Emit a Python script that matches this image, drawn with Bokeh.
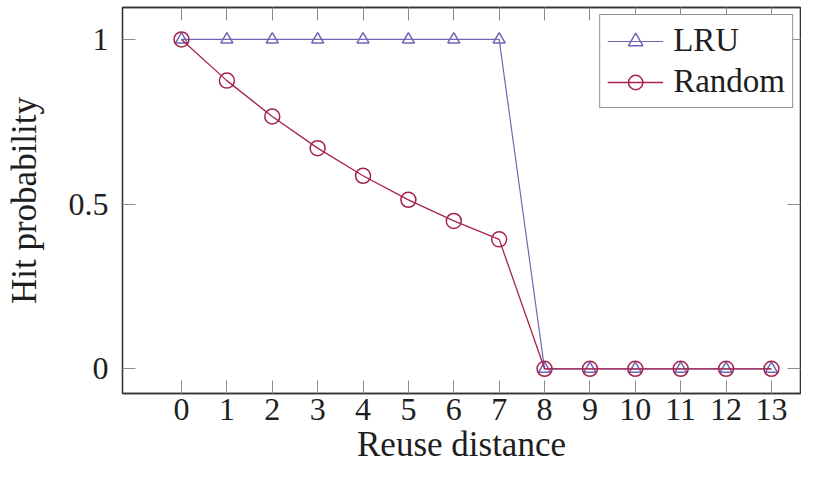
from bokeh.plotting import figure
from bokeh.models import Range1d, FixedTicker, LinearAxis, Legend
from bokeh.embed import file_html
from bokeh.resources import INLINE

# Data
reuse_distance = [0, 1, 2, 3, 4, 5, 6, 7, 8, 9, 10, 11, 12, 13]
lru_hit = [1, 1, 1, 1, 1, 1, 1, 1, 0, 0, 0, 0, 0, 0]
random_hit = [1, 0.875, 0.766, 0.67, 0.586, 0.513, 0.449, 0.393, 0, 0, 0, 0, 0, 0]
x_ticks = list(range(14))
y_ticks = [0, 0.5, 1]
y_tick_labels = {0: "0", 0.5: "0.5", 1: "1"}

LRU_COLOR = "#7066b4"
RND_COLOR = "#a6234b"
FONT = "Liberation Serif"
TXT = "#1e1e1e"

p = figure(width=801, height=466, output_backend="svg", toolbar_location=None,
           x_range=Range1d(-1.3, 13.64), y_range=Range1d(-0.075, 1.097),
           min_border_left=122, min_border_right=1, min_border_top=7, min_border_bottom=60)
p.xgrid.visible = False
p.ygrid.visible = False
p.outline_line_color = "#333333"
p.outline_line_width = 1.3

def style_axis(ax, ticks, show_labels):
    ax.ticker = FixedTicker(ticks=ticks)
    ax.minor_tick_line_color = None
    ax.major_tick_in = 13
    ax.major_tick_out = 0
    ax.major_tick_line_color = "#8c8c8c"
    ax.major_tick_line_width = 1
    ax.axis_line_color = "#333333"
    ax.axis_line_width = 1.3
    if show_labels:
        ax.major_label_text_font = FONT
        ax.major_label_text_font_size = "32px"
        ax.major_label_text_color = TXT
        ax.axis_label_text_font = FONT
        ax.axis_label_text_font_size = "35px"
        ax.axis_label_text_font_style = "normal"
        ax.axis_label_text_color = TXT
    else:
        ax.major_label_text_font_size = "1px"
        ax.major_label_text_color = None
        ax.major_label_standoff = 0

xa = p.xaxis[0]
style_axis(xa, x_ticks, True)
xa.axis_label = "Reuse distance"
xa.major_label_standoff = 5
xa.axis_label_standoff = 2

ya = p.yaxis[0]
style_axis(ya, y_ticks, True)
ya.major_label_overrides = y_tick_labels
ya.axis_label = "Hit probability"
ya.major_label_standoff = 14
ya.axis_label_standoff = 22

top = LinearAxis()
style_axis(top, x_ticks, False)
p.add_layout(top, "above")
right = LinearAxis()
style_axis(right, y_ticks, False)
p.add_layout(right, "right")

l1 = p.line(reuse_distance, lru_hit, line_color=LRU_COLOR, line_width=1.2)
m1 = p.scatter(reuse_distance, lru_hit, marker="triangle", size=12, fill_color=None,
               line_color=LRU_COLOR, line_width=1.5)
l2 = p.line(reuse_distance, random_hit, line_color=RND_COLOR, line_width=1.3)
m2 = p.scatter(reuse_distance, random_hit, marker="circle", size=15, fill_color=None,
               line_color=RND_COLOR, line_width=1.5)

legend = Legend(items=[("LRU", [l1, m1]), ("Random", [l2, m2])], location="top_right")
legend.label_text_font = FONT
legend.label_text_font_size = "33px"
legend.label_text_color = TXT
legend.glyph_width = 56
legend.glyph_height = 36
legend.label_height = 36
legend.label_standoff = 10
legend.padding = 7
legend.spacing = 4
legend.margin = 7
legend.border_line_color = "#222222"
legend.border_line_width = 1.3
legend.background_fill_alpha = 1
p.add_layout(legend)

open("out.html", "w").write(file_html(p, INLINE))
